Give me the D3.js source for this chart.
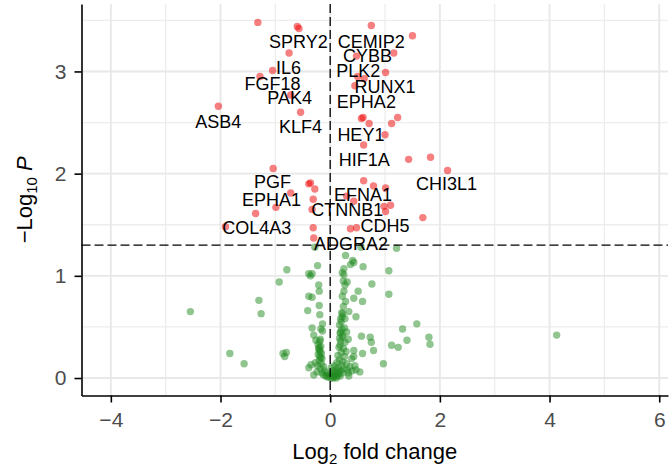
<!DOCTYPE html>
<html><head><meta charset="utf-8">
<script src="https://cdn.jsdelivr.net/npm/d3@7"></script>
<style>
body{margin:0;background:#fff}
svg{display:block}
text{font-family:"Liberation Sans",Arial,Helvetica,sans-serif}
</style>
</head><body>
<svg id="chart" width="671" height="466"></svg>
<script>
// ---- data (log2 fold change, -log10 P) ----
const xTicks = [-4, -2, 0, 2, 4, 6];
const yTicks = [0, 1, 2, 3];
const xMinorTicks = [-3, -1, 1, 3, 5];
const yMinorTicks = [0.5, 1.5, 2.5, 3.5];
const pCutoff = 1.30;
const fcCutoff = 0;

// significant genes (red)
const sigPoints = [
  [-1.32,3.48],[-0.60,3.44],[-0.57,3.42],[-0.75,3.18],[-1.05,3.01],[-1.28,2.95],[-0.72,2.77],
  [-2.04,2.66],[-0.54,2.60],
  [0.75,3.45],[1.50,3.35],[1.16,3.18],[0.48,3.15],[1.01,2.99],[0.50,2.95],[0.45,2.86],[0.62,2.93],
  [0.57,2.54],[0.60,2.55],[0.71,2.49],[1.23,2.55],[1.12,2.49],[1.00,2.38],[0.61,2.28],
  [1.43,2.14],[1.83,2.16],[2.14,2.03],
  [-1.04,2.05],[-0.39,1.90],[-0.36,1.91],[-0.28,1.85],[-0.72,1.81],[-0.31,1.75],[-0.99,1.67],
  [-0.33,1.65],[-1.36,1.61],[-1.91,1.48],[-0.31,1.47],[-0.30,1.37],
  [0.61,1.93],[0.79,1.88],[1.01,1.86],[0.30,1.78],[0.43,1.73],[0.98,1.68],[1.01,1.63],
  [1.10,1.69],[1.69,1.57],[0.37,1.46],[0.48,1.47]
];

// non-significant genes (green)
const nsPoints = [
  [-2.55,0.65],[-1.83,0.24],[-1.57,0.14],[-1.30,0.76],[-1.26,0.63],[-0.93,0.94],[-0.79,1.06],
  [-0.86,0.24],[-0.80,0.25],[-0.83,0.21],
  [-0.28,1.28],[-0.23,1.10],[-0.39,1.02],[-0.33,1.02],[-0.36,1.00],[-0.39,0.80],[-0.33,0.79],
  [-0.20,0.85],[-0.21,0.91],[-0.41,0.66],[-0.20,0.71],[-0.19,0.62],[-0.14,0.53],[-0.33,0.49],
  [-0.30,0.42],[-0.17,0.48],[-0.14,0.46],[-0.39,0.10],[-0.30,0.03],[-0.35,0.13],[-0.26,0.37],
  [-0.22,0.33],[-0.21,0.29],[-0.18,0.26],[-0.22,0.23],[-0.17,0.20],[-0.20,0.17],[-0.16,0.14],
  [-0.23,0.12],[-0.12,0.11],[-0.18,0.09],[-0.10,0.07],[-0.15,0.05],[-0.06,0.05],[-0.12,0.03],
  [-0.03,0.02],[-0.24,0.06],[-0.27,0.15],[-0.18,0.38],[-0.20,0.30],
  [-0.19,0.36],[-0.17,0.31],[-0.20,0.27],[-0.16,0.24],[-0.19,0.21],[-0.15,0.19],
  [0.01,0.00],[0.04,0.02],[0.07,0.01],[0.10,0.03],[0.13,0.02],[0.16,0.04],[0.03,0.05],
  [0.06,0.07],[0.11,0.08],[0.15,0.10],[0.19,0.07],[0.21,0.12],[0.08,0.12],[0.02,0.10],
  [0.12,0.15],[0.17,0.18],[0.23,0.16],[0.26,0.21],[0.14,0.22],[0.20,0.25],[0.24,0.29],
  [0.29,0.26],[0.18,0.32],[0.27,0.35],[0.33,0.38],[0.23,0.42],[0.26,0.49],[0.17,0.39],
  [0.30,0.45],[0.20,0.55],[0.22,0.60],[0.17,0.52],[0.27,0.58],[0.34,0.65],[0.47,0.60],
  [0.24,0.70],[0.28,0.75],[0.22,0.80],[0.25,0.85],[0.27,0.91],[0.24,0.95],[0.31,0.94],
  [0.25,1.01],[0.22,1.03],[0.25,1.07],[0.28,1.20],[0.37,1.11],[0.41,1.15],[0.43,1.13],
  [0.60,1.09],[0.56,1.28],[0.51,0.85],[0.43,0.78],[0.59,0.75],[0.76,0.92],[1.07,0.82],
  [1.07,1.05],[1.21,1.27],[0.21,0.64],[0.19,0.45],
  [0.19,0.36],[0.22,0.40],[0.18,0.44],[0.21,0.48],[0.19,0.58],[0.23,0.63],[0.16,0.30],
  [-0.05,0.01],[0.00,0.03],[0.05,0.00],[0.09,0.05],[0.14,0.06],[-0.08,0.02],[0.18,0.02],
  [0.22,0.05],[0.25,0.09],[0.11,0.00],
  [0.57,0.41],[0.73,0.40],[0.75,0.35],[0.79,0.27],[0.59,0.24],[0.43,0.27],[0.39,0.19],
  [0.45,0.12],[0.40,0.07],[0.33,0.05],[0.36,0.11],[0.30,0.14],[0.34,0.02],[0.43,0.21],
  [0.47,0.08],[0.54,0.06],[0.31,0.08],[0.97,0.14],[1.32,0.48],[1.58,0.53],[1.40,0.37],
  [1.12,0.32],[1.24,0.30],[1.80,0.40],[1.82,0.33],[4.13,0.42]
];

// labelled genes and where their text sits (data units)
const labelGenes = ["SPRY2","CEMIP2","CYBB","IL6","PLK2","FGF18","RUNX1","PAK4","EPHA2","ASB4","KLF4",
  "HEY1","HIF1A","CHI3L1","PGF","EFNA1","EPHA1","CTNNB1","CDH5","COL4A3","ADGRA2"];
const labelFC = [-0.58,0.75,0.68,-0.76,0.51,-1.05,1.00,-0.74,0.66,-2.04,-0.54,
  0.56,0.62,2.12,-1.05,0.60,-1.07,0.31,1.00,-1.34,0.38];
const labelP = [3.29,3.29,3.16,3.04,3.01,2.88,2.85,2.74,2.71,2.51,2.46,
  2.38,2.14,1.90,1.92,1.80,1.75,1.65,1.49,1.47,1.32];

// ---- drawing ----
const svg = d3.select("#chart");
const W = 671, H = 466;
const m = {left: 81.5, right: 668, top: 4, bottom: 395.5};

const x = d3.scaleLinear().domain([-4.535, 6.16]).range([m.left, m.right]);
const y = d3.scaleLinear().domain([-0.171, 3.66]).range([m.bottom, m.top]);

svg.append("rect").attr("width", W).attr("height", H).attr("fill", "#fff");

const grid = svg.append("g");
grid.selectAll(".vmin").data(xMinorTicks).join("line")
  .attr("x1", d => x(d)).attr("x2", d => x(d)).attr("y1", m.top).attr("y2", m.bottom)
  .attr("stroke", "#ededed").attr("stroke-width", 1.3);
grid.selectAll(".hmin").data(yMinorTicks).join("line")
  .attr("y1", d => y(d)).attr("y2", d => y(d)).attr("x1", m.left).attr("x2", m.right)
  .attr("stroke", "#ededed").attr("stroke-width", 1.3);
grid.selectAll(".vmaj").data(xTicks).join("line")
  .attr("x1", d => x(d)).attr("x2", d => x(d)).attr("y1", m.top).attr("y2", m.bottom)
  .attr("stroke", "#e8e8e8").attr("stroke-width", 1.9);
grid.selectAll(".hmaj").data(yTicks).join("line")
  .attr("y1", d => y(d)).attr("y2", d => y(d)).attr("x1", m.left).attr("x2", m.right)
  .attr("stroke", "#e8e8e8").attr("stroke-width", 1.9);

// points
svg.append("g").selectAll("circle").data(nsPoints).join("circle")
  .attr("cx", d => x(d[0])).attr("cy", d => y(d[1])).attr("r", 3.7)
  .attr("fill", "#228B22").attr("fill-opacity", 0.5);
svg.append("g").selectAll("circle").data(sigPoints).join("circle")
  .attr("cx", d => x(d[0])).attr("cy", d => y(d[1])).attr("r", 3.7)
  .attr("fill", "#EE0000").attr("fill-opacity", 0.5);

// cutoff lines
svg.append("line")
  .attr("x1", x(fcCutoff)).attr("x2", x(fcCutoff)).attr("y1", m.top).attr("y2", m.bottom)
  .attr("stroke", "#000").attr("stroke-width", 1.3).attr("stroke-dasharray", "9,4");
svg.append("line")
  .attr("x1", m.left).attr("x2", m.right).attr("y1", y(pCutoff)).attr("y2", y(pCutoff))
  .attr("stroke", "#000").attr("stroke-width", 1.3).attr("stroke-dasharray", "9,4");

// labels
svg.append("g").selectAll("text").data(labelGenes).join("text")
  .attr("x", (d, i) => x(labelFC[i])).attr("y", (d, i) => y(labelP[i]))
  .attr("dy", "0.36em").attr("text-anchor", "middle")
  .attr("font-size", 18).attr("fill", "#000").text(d => d);

// axes
const xAxis = d3.axisBottom(x).tickValues(xTicks).tickSize(7).tickSizeOuter(0).tickPadding(10);
const gx = svg.append("g").attr("transform", `translate(0,${m.bottom})`).call(xAxis);
const yAxis = d3.axisLeft(y).tickValues(yTicks).tickFormat(d3.format("d"))
  .tickSize(7).tickSizeOuter(0).tickPadding(8);
const gy = svg.append("g").attr("transform", `translate(${m.left},0)`).call(yAxis);
[gx, gy].forEach(g => {
  g.select(".domain").attr("stroke", "#000").attr("stroke-width", 1.6);
  g.selectAll(".tick line").attr("stroke", "#000").attr("stroke-width", 1.6);
  g.selectAll(".tick text").attr("fill", "#4d4d4d").attr("font-size", 21)
    .attr("font-family", '"Liberation Sans",Arial,sans-serif');
});

// axis titles
const xt = svg.append("text").attr("x", (m.left + m.right) / 2).attr("y", 459)
  .attr("text-anchor", "middle").attr("font-size", 22).attr("fill", "#000");
xt.append("tspan").text("Log");
xt.append("tspan").attr("font-size", 15).attr("dy", 5).text("2");
xt.append("tspan").attr("dy", -5).text(" fold change");

const yt = svg.append("text")
  .attr("transform", `translate(32,${(m.top + m.bottom) / 2}) rotate(-90)`)
  .attr("text-anchor", "middle").attr("font-size", 22).attr("fill", "#000");
yt.append("tspan").text("\u2212Log");
yt.append("tspan").attr("font-size", 15).attr("dy", 5).text("10");
yt.append("tspan").attr("dy", -5).text(" ");
yt.append("tspan").attr("font-style", "italic").text("P");
</script>
</body></html>
